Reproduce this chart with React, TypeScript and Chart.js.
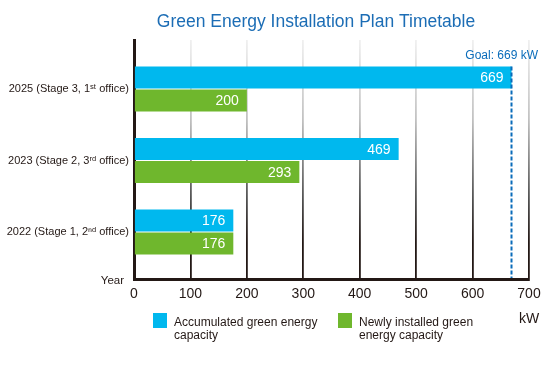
import React, { useEffect, useRef } from 'react';
import { Chart, registerables } from 'chart.js';

Chart.register(...registerables);

const title = 'Green Energy Installation Plan Timetable';
const categories = [
  '2025 (Stage 3, 1ˢᵗ office)',
  '2023 (Stage 2, 3ʳᵈ office)',
  '2022 (Stage 1, 2ⁿᵈ office)',
];
const categoryPositions = [1, 2, 3];
const accumulated = [669, 469, 176];
const newlyInstalled = [200, 293, 176];
const xTickValues = [0, 100, 200, 300, 400, 500, 600, 700];
const goalValue = 669;
const goalLabel = 'Goal: 669 kW';
const yAxisTitle = 'Year';
const xAxisUnit = 'kW';
const legendLines = [
  ['Accumulated green energy', 'capacity'],
  ['Newly installed green', 'energy capacity'],
];

const BLUE = '#00b8ee';
const GREEN = '#6fb72d';
const DARK = '#231815';
const TITLE_BLUE = '#1c6db5';
const FONT = '"Liberation Sans", Arial, Helvetica, sans-serif';

export default function App() {
  const ref = useRef<HTMLCanvasElement | null>(null);

  useEffect(() => {
    const canvas = ref.current;
    if (!canvas) return;

    const extras = {
      id: 'extras',
      afterDatasetsDraw(chart: any) {
        const ctx = chart.ctx;
        const area = chart.chartArea;
        const xScale = chart.scales.x;
        ctx.save();
        ctx.font = `14px ${FONT}`;
        ctx.fillStyle = '#ffffff';
        ctx.textAlign = 'right';
        ctx.textBaseline = 'middle';
        chart.data.datasets.forEach((ds: any, di: number) => {
          const meta = chart.getDatasetMeta(di);
          meta.data.forEach((el: any, i: number) => {
            const v = ds.data[i].x;
            ctx.fillText(String(v), el.x - 8, el.y + 1);
          });
        });
        const gx = xScale.getPixelForValue(goalValue);
        const firstBar = chart.getDatasetMeta(0).data[0] as any;
        const topY = firstBar.y - firstBar.height / 2;
        ctx.strokeStyle = '#0a6cba';
        ctx.lineWidth = 2;
        ctx.setLineDash([4, 2]);
        ctx.beginPath();
        ctx.moveTo(gx, topY);
        ctx.lineTo(gx, area.bottom - 1);
        ctx.stroke();
        ctx.setLineDash([]);
        ctx.font = `12px ${FONT}`;
        ctx.fillStyle = '#0a6cba';
        ctx.textAlign = 'right';
        ctx.fillText(goalLabel, 538, 56);
        ctx.restore();
      },
      afterDraw(chart: any) {
        const ctx = chart.ctx;
        ctx.save();
        ctx.font = `17.5px ${FONT}`;
        ctx.fillStyle = TITLE_BLUE;
        ctx.textAlign = 'center';
        ctx.textBaseline = 'middle';
        ctx.fillText(title, 316, 22);
        ctx.font = `11.5px ${FONT}`;
        ctx.fillStyle = DARK;
        ctx.textAlign = 'right';
        ctx.fillText(yAxisTitle, 124, 281);
        ctx.font = `14px ${FONT}`;
        ctx.textAlign = 'left';
        ctx.fillText(xAxisUnit, 519, 319);
        const colors = [BLUE, GREEN];
        const boxX = [153, 338];
        ctx.font = `12px ${FONT}`;
        legendLines.forEach((lines, i) => {
          ctx.fillStyle = colors[i];
          ctx.fillRect(boxX[i], 313, 14, 15);
          ctx.fillStyle = DARK;
          ctx.textAlign = 'left';
          lines.forEach((ln, j) => {
            ctx.fillText(ln, boxX[i] + 21, 323 + j * 13);
          });
        });
        ctx.restore();
      },
    };

    const chart = new Chart(canvas, {
      type: 'bar',
      data: {
        datasets: [
          {
            label: legendLines[0].join(' '),
            data: accumulated.map((v, i) => ({ x: v, y: categoryPositions[i] })),
            backgroundColor: BLUE,
            categoryPercentage: 0.643,
            barPercentage: 0.956,
          },
          {
            label: legendLines[1].join(' '),
            data: newlyInstalled.map((v, i) => ({ x: v, y: categoryPositions[i] })),
            backgroundColor: GREEN,
            categoryPercentage: 0.643,
            barPercentage: 0.956,
          },
        ],
      },
      options: {
        indexAxis: 'y',
        responsive: false,
        animation: false,
        devicePixelRatio: 1,
        layout: { padding: { left: 0, right: 30, top: 40, bottom: 70 } },
        plugins: {
          legend: { display: false },
          tooltip: { enabled: false },
          title: { display: false },
        },
        scales: {
          x: {
            type: 'linear',
            min: 0,
            max: 700,
            offset: false,
            afterBuildTicks: (scale: any) => {
              scale.ticks = xTickValues.map((v) => ({ value: v }));
            },
            afterFit: (scale: any) => {
              scale.height = 26;
            },
            ticks: {
              font: { family: FONT, size: 14 },
              color: DARK,
              padding: 7,
              maxRotation: 0,
            },
            grid: {
              drawTicks: false,
              offset: false,
              lineWidth: 1.8,
              color: (c: any) => {
                const area = c.chart.chartArea;
                if (!area) return '#999';
                const g = c.chart.ctx.createLinearGradient(0, area.top, 0, area.bottom);
                g.addColorStop(0, '#f0f0f0');
                g.addColorStop(0.33, '#c2c2c2');
                g.addColorStop(0.67, '#505050');
                g.addColorStop(0.85, DARK);
                g.addColorStop(1, DARK);
                return g;
              },
            },
            border: { display: true, color: DARK, width: 3 },
          },
          y: {
            type: 'linear',
            reverse: true,
            offset: false,
            min: 0.315,
            max: 3.657,
            afterBuildTicks: (scale: any) => {
              scale.ticks = categoryPositions.map((v) => ({ value: v }));
            },
            afterFit: (scale: any) => {
              scale.width = 134;
            },
            ticks: {
              font: { family: FONT, size: 11 },
              color: DARK,
              padding: 5,
              callback: (v: any) => {
                const i = categoryPositions.indexOf(Number(v));
                return i >= 0 ? categories[i] : '';
              },
            },
            grid: { display: false, drawTicks: false, offset: false },
            border: { display: true, color: DARK, width: 3 },
          },
        },
      } as any,
      plugins: [extras],
    });

    return () => chart.destroy();
  }, []);

  return (
    <div style={{ position: 'absolute', left: 0, top: 0, width: 559, height: 375, background: '#fff' }}>
      <canvas ref={ref} width={559} height={375} />
    </div>
  );
}
